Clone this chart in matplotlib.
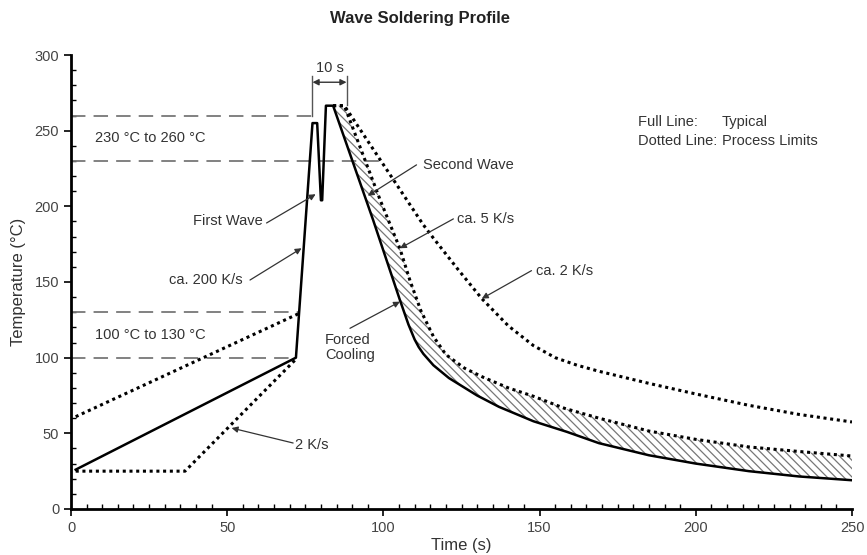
import numpy as np
import matplotlib.pyplot as plt

plt.rcParams['font.family'] = ['Liberation Sans', 'DejaVu Sans']

# typical profile (full line)
typ_t = [1.5, 72, 77.3, 78.8, 80, 80.4, 81.6, 83.9, 96.7, 105.3, 108, 110, 111.3, 112.8, 116, 121,
         130, 137, 148, 158.7, 169, 185, 200, 217, 233, 250]
typ_T = [26, 100, 255, 255, 204, 204, 266.5, 266.5, 191, 138, 122, 112, 107, 102.5, 95, 86.5,
         75, 67.5, 58, 51, 43.5, 35.5, 30, 25, 21.5, 19]

# process limits (dotted lines)
lo_pre_t = [1.5, 36.5, 72]
lo_pre_T = [25, 25, 99]
hi_pre_t = [1.5, 73.3]
hi_pre_T = [61, 129.5]
cool5_t = [83.9, 87.5, 99, 105.3, 108.5, 112, 116, 120, 126, 132, 140, 148, 158, 169, 185, 200,
           217, 233, 250]
cool5_T = [266.5, 266.5, 204, 172, 151, 131, 114, 102, 93, 87, 80, 74.5, 66.5, 60, 51.5, 46,
           41, 38, 35]
cool2_t = [83.9, 87.5, 112.7, 116, 124, 131.5, 140, 148, 155, 162, 169, 185, 200, 217, 233, 250]
cool2_T = [266.5, 266.5, 188, 179, 158, 139, 121, 108, 100, 95, 91, 83, 76, 68.5, 62.5, 57.5]

# temperature windows
windows = [(230, 260, 99, 77.3, '230 °C to 260 °C'), (100, 130, 72, 73.3, '100 °C to 130 °C')]
wave_t0, wave_t1 = 77.3, 88.2

fig = plt.figure(figsize=(8.67, 5.55), dpi=100)
ax = fig.add_axes([0.0819, 0.0829, 0.9008, 0.818])

gray = '#333333'
dash = (0, (8, 4.5))
dot = (0, (1, 1.2))

for lo, hi, end_lo, end_hi, lbl in windows:
    ax.plot([0, end_lo], [lo, lo], color='#777777', lw=1.3, linestyle=dash)
    ax.plot([0, end_hi], [hi, hi], color='#777777', lw=1.3, linestyle=dash)
    ax.text(7.7, (lo + hi) / 2, lbl, fontsize=10.5, color=gray, va='center', ha='left')

# hatched band between typical cooling and 5 K/s limit
i0 = typ_t.index(83.9)
poly_t = np.concatenate([typ_t[i0:], cool5_t[::-1]])
poly_T = np.concatenate([typ_T[i0:], cool5_T[::-1]])
plt.rcParams['hatch.linewidth'] = 0.9
ax.fill(poly_t, poly_T, facecolor='none', edgecolor='#777777', linewidth=0, hatch='\\\\\\\\')

for t, T in [(lo_pre_t, lo_pre_T), (hi_pre_t, hi_pre_T), (cool5_t, cool5_T), (cool2_t, cool2_T)]:
    ax.plot(t, T, color='black', lw=2.2, linestyle=dot, dash_capstyle='butt')

ax.plot(typ_t, typ_T, color='black', lw=1.8)

# 10 s bracket
ax.plot([wave_t0, wave_t0], [260, 286], color='#555555', lw=1)
ax.plot([wave_t1, wave_t1], [267, 286], color='#555555', lw=1)
ax.annotate('', xy=(wave_t0, 282), xytext=(wave_t1, 282),
            arrowprops=dict(arrowstyle='<|-|>', color='#333333', lw=1, mutation_scale=9,
                            shrinkA=0, shrinkB=0))
ax.text((wave_t0 + wave_t1) / 2, 291.5, '10 s', fontsize=10.5, color=gray, ha='center', va='center')

arrow = dict(arrowstyle='-|>', color='#333333', lw=0.9, mutation_scale=9, shrinkA=0, shrinkB=0)
notes = [
    ('First Wave', (61.5, 190.3), 'right', (62.6, 189), (78.3, 208)),
    ('ca. 200 K/s', (55, 151.3), 'right', (57.3, 151.3), (73.8, 172.3)),
    ('Second Wave', (112.8, 227.4), 'left', (110.6, 227.4), (95, 207)),
    ('ca. 5 K/s', (123.5, 191.7), 'left', (122.4, 191.7), (105.3, 172.3)),
    ('ca. 2 K/s', (149, 157.5), 'left', (147.4, 157.5), (131.5, 139)),
    ('Forced\nCooling', (81.3, 106.7), 'left', (89.3, 119.4), (105.3, 137)),
    ('2 K/s', (71.7, 42.3), 'left', (71.1, 43.6), (51.4, 53.5)),
]
for txt, pos, ha, tail, tip in notes:
    ax.text(pos[0], pos[1], txt, fontsize=10.5, color=gray, ha=ha, va='center', linespacing=1.1)
    ax.annotate('', xy=tip, xytext=tail, arrowprops=arrow)

ax.text(181.5, 255.8, 'Full Line:', fontsize=10.5, color=gray, va='center')
ax.text(208.4, 255.8, 'Typical', fontsize=10.5, color=gray, va='center')
ax.text(181.5, 243.2, 'Dotted Line:', fontsize=10.5, color=gray, va='center')
ax.text(208.4, 243.2, 'Process Limits', fontsize=10.5, color=gray, va='center')

ax.set_xlim(0, 250)
ax.set_ylim(0, 300)
ax.set_xticks(np.arange(0, 251, 50))
ax.set_xticks(np.arange(0, 251, 5), minor=True)
ax.set_yticks(np.arange(0, 301, 50))
ax.set_yticks(np.arange(0, 301, 10), minor=True)
ax.tick_params(which='major', direction='out', length=5, width=1.2, labelsize=10.5,
               labelcolor='#444444')
ax.tick_params(which='minor', direction='in', length=3.5, width=1)
for s in ['top', 'right']:
    ax.spines[s].set_visible(False)
for s in ['left', 'bottom']:
    ax.spines[s].set_linewidth(2)
ax.set_xlabel('Time (s)', fontsize=12, color=gray, labelpad=2)
ax.set_ylabel('Temperature (°C)', fontsize=12, color=gray, labelpad=6)

fig.text(420 / 867, 1 - 18 / 555, 'Wave Soldering Profile', fontsize=12, fontweight='bold',
         color='#222222', ha='center', va='center')

fig.savefig('out.png', dpi=100)
